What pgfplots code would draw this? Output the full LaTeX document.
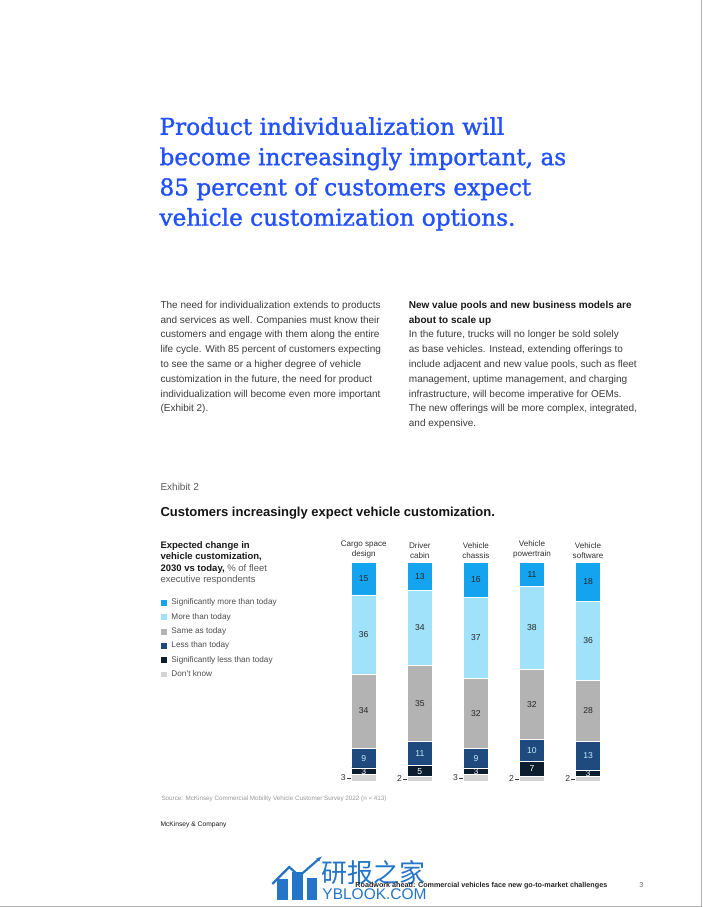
\documentclass[border=0pt]{standalone}
\usepackage{fontspec}
\setmainfont{Liberation Sans}
\newfontfamily\titlefont[FakeBold=1.3]{DejaVu Serif}
\newfontfamily\cjk{Noto Sans CJK SC}
\usepackage{pgfplots}
\pgfplotsset{compat=1.18}
\usetikzlibrary{arrows.meta}
\definecolor{mckblue}{HTML}{2251FF}
\definecolor{sigmore}{HTML}{14A3EE}
\definecolor{more}{HTML}{A0E2FA}
\definecolor{same}{HTML}{B3B3B3}
\definecolor{less}{HTML}{1F4A7E}
\definecolor{sigless}{HTML}{0B1D2E}
\definecolor{dk}{HTML}{D3D3D3}
\definecolor{bodygray}{HTML}{3C3C3C}
\definecolor{wm}{HTML}{2474C8}
\begin{document}
\begin{tikzpicture}
\fill[white] (0,0) rectangle (702pt,-907pt);
\draw[black!30, line width=0.8pt] (701.6pt,0pt) -- (701.6pt,-906.6pt) -- (0pt,-906.6pt);
% title
\foreach \t [count=\i from 0] in {{Product individualization will},{become increasingly important, as},{85 percent of customers expect},{vehicle customization options.}}
  \node[anchor=base west, inner sep=0pt, text=mckblue, font=\titlefont\fontsize{23.2}{28}\selectfont] at (159pt,{-134.5pt-\i*30.3pt}) {\t};
% left body column
\foreach \t [count=\i from 0] in {{The need for individualization extends to products},{and services as well. Companies must know their},{customers and engage with them along the entire},{life cycle. With 85 percent of customers expecting},{to see the same or a higher degree of vehicle},{customization in the future, the need for product},{individualization will become even more important},{(Exhibit 2).}}
  \node[anchor=base west, inner sep=0pt, text=bodygray, font=\fontsize{10}{12}\selectfont] at (160pt,{-308pt-\i*14.8pt}) {\t};
% right body column
\foreach \t [count=\i from 0] in {{New value pools and new business models are},{about to scale up}}
  \node[anchor=base west, inner sep=0pt, text=black!90, font=\bfseries\fontsize{10}{12}\selectfont] at (408.5pt,{-308pt-\i*14.8pt}) {\t};
\foreach \t [count=\i from 2] in {{In the future, trucks will no longer be sold solely},{as base vehicles. Instead, extending offerings to},{include adjacent and new value pools, such as fleet},{management, uptime management, and charging},{infrastructure, will become imperative for OEMs.},{The new offerings will be more complex, integrated,},{and expensive.}}
  \node[anchor=base west, inner sep=0pt, text=bodygray, font=\fontsize{10}{12}\selectfont] at (408.5pt,{-308pt-\i*14.8pt}) {\t};
% exhibit
\node[anchor=base west, inner sep=0pt, text=black!65, font=\fontsize{10}{12}\selectfont] at (160pt,-490pt) {Exhibit 2};
\node[anchor=base west, inner sep=0pt, text=black!92, font=\bfseries\fontsize{13}{15}\selectfont] at (160pt,-516pt) {Customers increasingly expect vehicle customization.};
% legend heading
\node[anchor=base west, inner sep=0pt, text=black!90, font=\bfseries\fontsize{9.5}{11.5}\selectfont] at (160pt,-548pt) {Expected change in};
\node[anchor=base west, inner sep=0pt, text=black!90, font=\bfseries\fontsize{9.5}{11.5}\selectfont] at (160pt,-559.5pt) {vehicle customization,};
\node[anchor=base west, inner sep=0pt, text=black!90, font=\fontsize{9.5}{11.5}\selectfont] at (160pt,-571pt) {\textbf{2030 vs today,} \textcolor{black!65}{\% of fleet}};
\node[anchor=base west, inner sep=0pt, text=black!65, font=\fontsize{9.5}{11.5}\selectfont] at (160pt,-582.5pt) {executive respondents};
% chart
\begin{axis}[
  at={(335.45pt,-781pt)}, anchor=south west,
  x=56.1pt, y=2.19pt,
  xmin=-0.5, xmax=4.5, ymin=0, ymax=100,
  ybar stacked, bar width=25pt,
  axis y line=none,
  axis x line*=top,
  x axis line style={draw=none},
  major tick length=0pt,
  xtick={0,1,2,3,4},
  xticklabels={{Cargo space\\design},{Driver\\cabin},{Vehicle\\chassis},{Vehicle\\powertrain},{Vehicle\\software}},
  xticklabel style={align=center, font=\fontsize{8.1}{10.5}\selectfont, text=black!80},
  clip=false,
  reverse legend,
  legend cell align=left,
  legend image code/.code={\fill[#1] (0pt,-3.4pt) rectangle (6.8pt,3.4pt);},
  legend style={at={(-0.626,0.835)}, anchor=north west, draw=none, fill=none, inner sep=0pt,
    row sep=5.6pt, font=\fontsize{8.2}{9.6}\selectfont, text=black!70,
    nodes={inner sep=0.5pt, text height=6pt, text depth=1.7pt},
    /tikz/every odd column/.append style={column sep=3.3pt}},
]
\addplot[fill=dk, draw=white, line width=0.5pt] coordinates {(0,3) (1,2) (2,3) (3,2) (4,2)};
\addlegendentry{Don't know}
\addplot[fill=sigless, draw=white, line width=0.5pt] coordinates {(0,3) (1,5) (2,3) (3,7) (4,3)};
\addlegendentry{Significantly less than today}
\addplot[fill=less, draw=white, line width=0.5pt] coordinates {(0,9) (1,11) (2,9) (3,10) (4,13)};
\addlegendentry{Less than today}
\addplot[fill=same, draw=white, line width=0.5pt] coordinates {(0,34) (1,35) (2,32) (3,32) (4,28)};
\addlegendentry{Same as today}
\addplot[fill=more, draw=white, line width=0.5pt] coordinates {(0,36) (1,34) (2,37) (3,38) (4,36)};
\addlegendentry{More than today}
\addplot[fill=sigmore, draw=white, line width=0.5pt] coordinates {(0,15) (1,13) (2,16) (3,11) (4,18)};
\addlegendentry{Significantly more than today}
\end{axis}
% value labels
\begin{axis}[
  at={(335.45pt,-781pt)}, anchor=south west,
  x=56.1pt, y=2.19pt,
  xmin=-0.5, xmax=4.5, ymin=0, ymax=100,
  hide axis, clip=false,
  nodes near coords, point meta=explicit symbolic,
  every node near coord/.append style={anchor=center, inner sep=0pt, font=\fontsize{8.6}{9}\selectfont},
]
\addplot[draw=none, mark=none, every node near coord/.append style={text=black!85}] coordinates {(0,92.5)[15] (1,93.5)[13] (2,92)[16] (3,94.5)[11] (4,91)[18]};
\addplot[draw=none, mark=none, every node near coord/.append style={text=black!85}] coordinates {(0,67)[36] (1,70)[34] (2,65.5)[37] (3,70)[38] (4,64)[36]};
\addplot[draw=none, mark=none, every node near coord/.append style={text=black!85}] coordinates {(0,32)[34] (1,35.5)[35] (2,31)[32] (3,35)[32] (4,32)[28]};
\addplot[draw=none, mark=none, every node near coord/.append style={text=more!70!white}] coordinates {(0,10.5)[9] (1,12.5)[11] (2,10.5)[9] (3,14)[10] (4,11.5)[13]};
\addplot[draw=none, mark=none, every node near coord/.append style={text=white}] coordinates {(0,4.5)[3] (1,4.5)[5] (2,4.5)[3] (3,5.5)[7] (4,3.5)[3]};
\addplot[draw=none, mark=none, nodes near coords={\pgfplotspointmeta\hspace{1.2pt}\rule[2.4pt]{4pt}{0.45pt}}, every node near coord/.append style={anchor=east, text=black!80}] coordinates {(-0.225,1.5)[3] (0.775,1)[2] (1.775,1.5)[3] (2.775,1)[2] (3.775,1)[2]};
\end{axis}
% footer
\node[anchor=base west, inner sep=0pt, text=black!40, font=\fontsize{6.3}{8}\selectfont] at (161pt,-800.5pt) {Source: McKinsey Commercial Mobility Vehicle Customer Survey 2022 (n = 413)};
\node[anchor=base west, inner sep=0pt, text=black!90, font=\fontsize{6.7}{8}\selectfont] at (160pt,-826.5pt) {McKinsey \& Company};
% watermark
\fill[wm] (277pt,-900pt) rectangle (288pt,-879pt);
\fill[wm] (292pt,-900pt) rectangle (303pt,-872pt);
\fill[wm] (307pt,-900pt) rectangle (317pt,-878pt);
\draw[wm, line width=2.2pt, -{Latex[length=6pt]}] (272pt,-884pt) -- (289pt,-867pt) -- (299pt,-876pt) -- (322pt,-856pt);
\node[anchor=base west, inner sep=0pt, text=wm, font=\cjk\fontsize{26}{28}\selectfont] at (321pt,-882pt) {研报之家};
\node[anchor=base west, inner sep=0pt, text=wm, font=\fontsize{15.5}{17}\selectfont] at (322pt,-899pt) {YBLOOK.COM};
\node[anchor=base west, inner sep=0pt, text=black!85, font=\bfseries\fontsize{7.2}{8}\selectfont] at (355pt,-887pt) {Roadwork ahead: Commercial vehicles face new go-to-market challenges};
\node[anchor=base west, inner sep=0pt, text=black!60, font=\fontsize{7.2}{8}\selectfont] at (639pt,-887pt) {3};
\end{tikzpicture}
\end{document}
